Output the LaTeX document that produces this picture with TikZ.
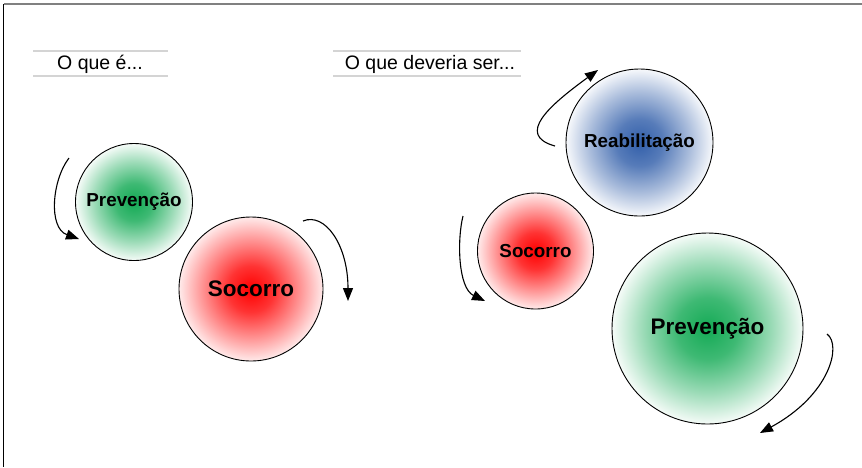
\documentclass[tikz,border=0pt]{standalone}
\usepackage{fontspec}
\setmainfont{Liberation Sans}
\usetikzlibrary{arrows.meta}
\definecolor{gcen}{RGB}{20,170,85}
\definecolor{rcen}{RGB}{255,0,0}
\definecolor{bcen}{RGB}{50,95,170}
\definecolor{hline}{RGB}{212,212,212}
\definecolor{frameg}{RGB}{128,128,128}
\pgfdeclareradialshading{gshade}{\pgfpoint{0bp}{0bp}}{color(0bp)=(gcen); color(8bp)=(gcen!82!white); color(17bp)=(gcen!42!white); color(25bp)=(gcen!4!white); color(50bp)=(white)}
\pgfdeclareradialshading{rshade}{\pgfpoint{0bp}{0bp}}{color(0bp)=(rcen); color(8bp)=(rcen!80!white); color(17bp)=(rcen!42!white); color(25bp)=(rcen!8!white); color(50bp)=(rcen!8!white)}
\pgfdeclareradialshading{bshade}{\pgfpoint{0bp}{0bp}}{color(0bp)=(bcen); color(8bp)=(bcen!82!white); color(17bp)=(bcen!42!white); color(25bp)=(bcen!4!white); color(50bp)=(white)}
\begin{document}
\begin{tikzpicture}[x=1pt,y=-1pt,
  ball/.style={circle,draw=black,line width=0.9pt,inner sep=0pt,font=\bfseries},
  smallfont/.style={font=\fontsize{18.8}{22}\bfseries\selectfont},
  bigfont/.style={font=\fontsize{22.5}{26}\bfseries\selectfont},
  header/.style={font=\fontsize{19.5}{23}\selectfont,inner sep=0pt},
  hrule/.style={draw=hline,line width=1.5pt},
  cyc/.style={line width=1.1pt,-{Triangle[length=13pt,width=10pt]}}]
\useasboundingbox (0,0) rectangle (862,467);
% frame
\draw[frameg,line width=1.8pt] (3.5,4) -- (862,4);
\draw[black,line width=1.4pt] (3.5,4) -- (3.5,467);
% headers
\node[header] (h1) at (100,64) {O que é...};
\draw[hrule] (33,51) -- (168,51);
\draw[hrule] (33,76) -- (168,76);
\node[header] (h2) at (430,64) {O que deveria ser...};
\draw[hrule] (333,51) -- (521,51);
\draw[hrule] (333,76) -- (521,76);
% left circles
\node[ball,shading=gshade,minimum size=117pt,smallfont] (prevL) at (134,202) {Prevenção};
\node[ball,shading=rshade,minimum size=144pt,bigfont] (socL) at (251,289) {Socorro};
% right circles
\node[ball,shading=bshade,minimum size=147pt,smallfont] (reab) at (639.5,142.5) {Reabilitação};
\node[ball,shading=rshade,minimum size=116pt,smallfont] (socR) at (535.5,251) {Socorro};
\node[ball,shading=gshade,minimum size=191pt,bigfont] (prevR) at (707.5,328.5) {Prevenção};
% arrows
\coordinate (a1s) at (69,158);   \coordinate (a1e) at (79,239);
\coordinate (a2s) at (303,221);  \coordinate (a2e) at (348,301);
\coordinate (a3s) at (555,146);  \coordinate (a3e) at (598,70);
\coordinate (a4s) at (463,216);  \coordinate (a4e) at (485,301);
\coordinate (a5s) at (827,334);  \coordinate (a5e) at (760,433);
\draw[cyc] (a1s) .. controls (52,180) and (48,228) .. (a1e);
\draw[cyc] (a2s) .. controls (325,212) and (348,245) .. (a2e);
\draw[cyc] (a3s) .. controls (515,135) and (550,105) .. (a3e);
\draw[cyc] (a4s) .. controls (457,240) and (458,288) .. (a4e);
\draw[cyc] (a5s) .. controls (842,345) and (830,395) .. (a5e);
\end{tikzpicture}
\end{document}
